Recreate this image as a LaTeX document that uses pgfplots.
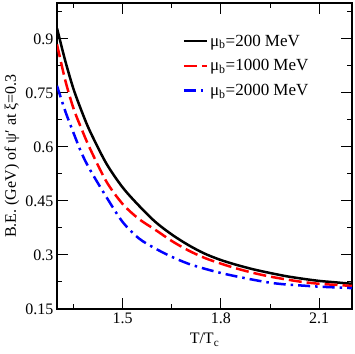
\documentclass[border=0pt]{standalone}
\usepackage{pgfplots}
\pgfplotsset{compat=1.18}
\usepackage{fontspec}
\setmainfont{Liberation Serif}
\begin{document}
\begin{tikzpicture}
\begin{axis}[
  scale only axis, width=295bp, height=306bp,
  xmin=1.3, xmax=2.2, ymin=0.15, ymax=1.0,
  xtick={1.5,1.8,2.1}, xticklabels={1.5,1.8,2.1},
  minor xtick={1.35,1.65,1.95},
  ytick={0.15,0.3,0.45,0.6,0.75,0.9},
  yticklabels={0.15,0.3,0.45,0.6,0.75,0.9},
  minor ytick={0.225,0.375,0.525,0.675,0.825,0.975},
  tick align=inside, major tick length=11bp, minor tick length=5bp,
  tick style={line width=1bp, black},
  axis line style={line width=2bp},
  /pgf/number format/assume math mode=true,
  ticklabel style={font=\fontsize{16bp}{19bp}\selectfont},
  label style={font=\fontsize{16bp}{19bp}\selectfont},
  xlabel={T/T\textsubscript{c}},
  ylabel={B.E. (GeV) of ψ′ at ξ=0.3},
  xlabel style={at={(axis description cs:0.5,-0.1)}, anchor=center},
  ylabel style={at={(axis description cs:-0.153,0.5)}, anchor=center},
  legend style={draw=none, fill=none, at={(axis description cs:0.415,0.91)}, anchor=north west,
    font=\fontsize{17bp}{20bp}\selectfont, row sep=8bp},
  legend cell align=left,
  legend image code/.code={\draw[#1] (0bp,0bp) -- (23bp,0bp);},
]
\coordinate (sw) at (rel axis cs:0,0);
\coordinate (ne) at (rel axis cs:1,1);
\addplot[black, line width=2.5bp, smooth] coordinates {
(1.30,0.930) (1.325,0.840) (1.35,0.762) (1.375,0.700) (1.40,0.645) (1.45,0.555)
(1.50,0.488) (1.55,0.437) (1.60,0.392) (1.65,0.357) (1.70,0.328) (1.75,0.304)
(1.80,0.286) (1.85,0.272) (1.90,0.260) (1.95,0.250) (2.00,0.241) (2.05,0.234)
(2.10,0.228) (2.15,0.224) (2.20,0.220)};
\addlegendentry{μ\textsubscript{b}=200 MeV}
\addplot[red, line width=2.5bp, smooth, dash pattern=on 13bp off 5bp] coordinates {
(1.30,0.885) (1.325,0.786) (1.35,0.708) (1.375,0.650) (1.40,0.597) (1.45,0.505)
(1.50,0.442) (1.55,0.400) (1.60,0.370) (1.65,0.339) (1.70,0.313) (1.75,0.292)
(1.80,0.276) (1.85,0.262) (1.90,0.250) (1.95,0.240) (2.00,0.232) (2.05,0.225)
(2.10,0.220) (2.15,0.217) (2.20,0.214)};
\addlegendentry{μ\textsubscript{b}=1000 MeV}
\addplot[blue, line width=2.5bp, smooth, dash pattern=on 12bp off 5bp on 2.5bp off 5bp] coordinates {
(1.30,0.770) (1.325,0.700) (1.35,0.640) (1.375,0.583) (1.40,0.538) (1.45,0.462)
(1.50,0.392) (1.55,0.346) (1.60,0.318) (1.65,0.295) (1.70,0.276) (1.75,0.262)
(1.80,0.250) (1.85,0.240) (1.90,0.231) (1.95,0.223) (2.00,0.218) (2.05,0.215)
(2.10,0.212) (2.15,0.210) (2.20,0.208)};
\addlegendentry{μ\textsubscript{b}=2000 MeV}
\end{axis}
\pgfresetboundingbox
\path ([xshift=-57bp,yshift=-45bp]sw) rectangle ([xshift=2bp,yshift=3bp]ne);
\end{tikzpicture}
\end{document}
